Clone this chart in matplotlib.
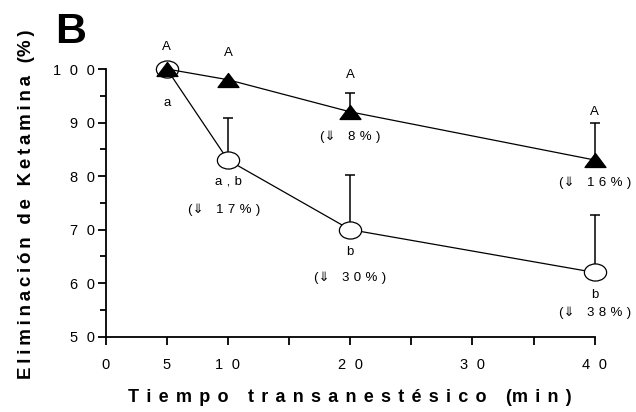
import numpy as np
import matplotlib
matplotlib.use("Agg")
import matplotlib.pyplot as plt
from matplotlib.path import Path

plt.rcParams['font.family'] = ['Liberation Sans', 'DejaVu Sans']

# data
time = [5, 10, 20, 40]
ket_tri = [100, 98, 92, 83]          # filled triangles
ket_tri_sd = [0, 0, 3.5, 7.0]
ket_circ = [100, 83, 70, 62]         # open circles
ket_circ_sd = [0, 7.8, 10.2, 10.8]

xticks = [0, 5, 10, 15, 20, 25, 30, 35, 40]
xticklabels = ['0', '5', '10', '', '20', '', '30', '', '40']
yticks = [50, 60, 70, 80, 90, 100]

# letters of significance and percent decrease
notes = [
    (5, 104.2, 'A'), (10, 103.0, 'A'), (20, 98.9, 'A'), (40, 92.0, 'A'),
    (5, 93.7, 'a'), (10, 79.0, 'a,b'), (20, 65.9, 'b'), (40, 57.8, 'b'),
    (9.7, 73.7, '(\u21d3 17%)'), (20, 87.4, '(\u21d3 8%)'),
    (20, 61.0, '(\u21d3 30%)'), (40, 78.7, '(\u21d3 16%)'),
    (40, 54.4, '(\u21d3 38%)'),
]


def spaced(s, sep='\u2009'):
    """Imitate the wide letter spacing of the original figure."""
    return sep.join(s).replace('(' + sep, '(')


ellipse = Path(Path.unit_circle().vertices * [1.3, 1.0],
               Path.unit_circle().codes)
wide_tri = Path([(0, 1), (-1.5, -1), (1.5, -1), (0, 1)],
                [Path.MOVETO, Path.LINETO, Path.LINETO, Path.CLOSEPOLY])

fig = plt.figure(figsize=(6.36, 4.12), dpi=100)
ax = fig.add_axes([0.1662, 0.1828, 0.935 - 0.1662, 0.8325 - 0.1828])

ax.errorbar(time, ket_circ, yerr=[np.zeros(4), ket_circ_sd], fmt='none',
            ecolor='black', elinewidth=1.1, capsize=3.3, capthick=1.1,
            zorder=2, clip_on=False)
ax.errorbar(time, ket_tri, yerr=[np.zeros(4), ket_tri_sd], fmt='none',
            ecolor='black', elinewidth=1.1, capsize=3.3, capthick=1.1,
            zorder=2, clip_on=False)
ax.plot(time, ket_circ, color='black', lw=0.9, marker=ellipse,
        markersize=16, markerfacecolor='white', markeredgecolor='black',
        markeredgewidth=0.9, zorder=3, clip_on=False)
ax.plot(time, ket_tri, color='black', lw=0.9, marker=wide_tri,
        markersize=15, markerfacecolor='black', markeredgecolor='black',
        zorder=4, clip_on=False)

for x, y, s in notes:
    ax.text(x, y, spaced(s, '\u2004'), ha='center', va='center',
            fontsize=9.5, clip_on=False)

ax.set_xlim(0, 40)
ax.set_ylim(50, 100)
ax.set_xticks(xticks)
ax.set_xticklabels([spaced(t, '\u2002\u200a') for t in xticklabels])
ax.set_yticks(yticks)
ax.set_yticklabels([spaced(str(t), '\u2002\u200a') for t in yticks])
ax.set_yticks(np.arange(55, 100, 10), minor=True)
ax.tick_params(axis='both', which='major', labelsize=10.5, width=1.3,
               direction='out', color='black')
ax.tick_params(axis='x', length=6, pad=9)
ax.tick_params(axis='y', length=6, pad=2)
ax.tick_params(axis='y', which='minor', length=4.5, width=1.3)

for side in ['top', 'right']:
    ax.spines[side].set_visible(False)
for side in ['left', 'bottom']:
    ax.spines[side].set_linewidth(1.3)

fig.text(350 / 636, 1 - 398 / 412, spaced('Tiempo transanestésico (min)',
                                          '\u2009\u2009'),
         ha='center', va='center', fontsize=13, fontweight='bold')
fig.text(27 / 636, 1 - 204 / 412, spaced('Eliminación de Ketamina (%)'),
         ha='center', va='center', fontsize=13.5, fontweight='bold',
         rotation=90)
fig.text(55 / 636, 1 - 43 / 412, 'B', fontsize=31, fontweight='bold',
         ha='left', va='baseline')

fig.savefig('out.png', dpi=100)
